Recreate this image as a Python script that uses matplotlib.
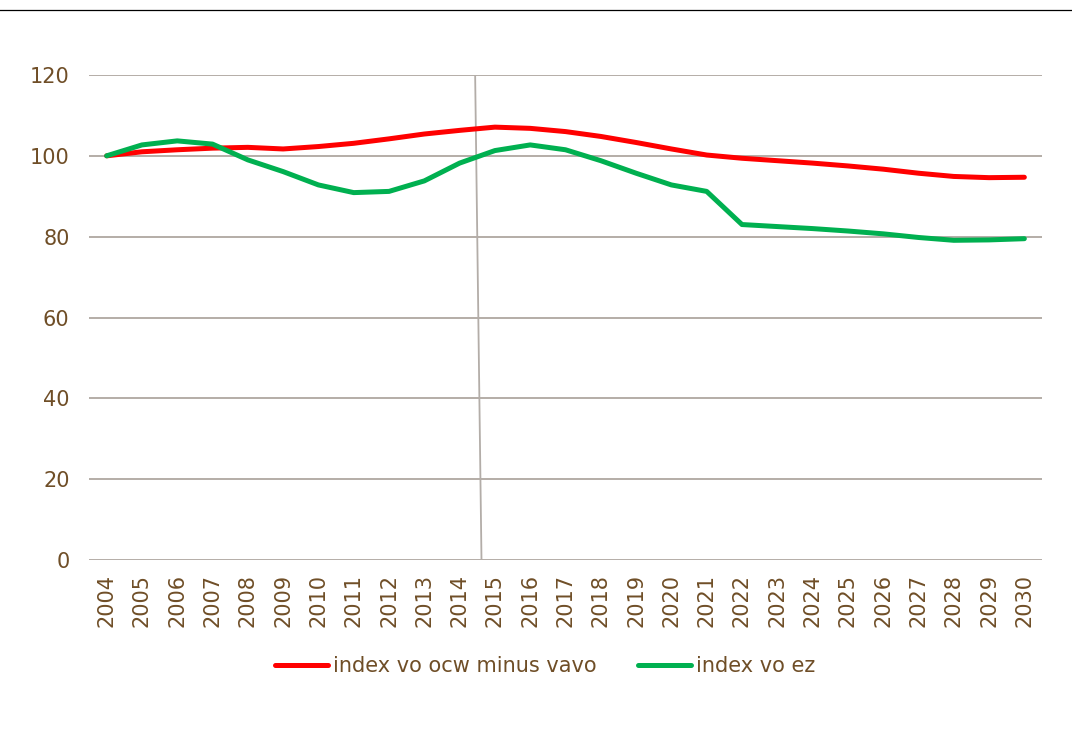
import matplotlib.pyplot as plt
from matplotlib.lines import Line2D

years = [str(y) for y in range(2004, 2031)]
index_ocw = [100.0, 101.0, 101.5, 101.9, 102.1, 101.7, 102.3, 103.1, 104.2, 105.4,
             106.3, 107.1, 106.8, 106.0, 104.8, 103.3, 101.7, 100.2, 99.4, 98.8,
             98.2, 97.5, 96.7, 95.7, 94.9, 94.6, 94.7]
index_ez = [100.0, 102.7, 103.7, 102.9, 99.0, 96.1, 92.8, 90.9, 91.2, 93.8,
            98.2, 101.3, 102.7, 101.5, 98.8, 95.7, 92.8, 91.2, 83.0, 82.5,
            82.0, 81.4, 80.7, 79.8, 79.1, 79.2, 79.5]
labels = ['index vo ocw minus vavo', 'index vo ez']

# slanted divider between 2014 and 2015 (category index units)
divider_x = [10.44, 10.62]
divider_y = [120, 0]

text_color = '#6F4E27'
grid_color = '#A0978F'
fs = 15

plt.rcParams['font.family'] = ['DejaVu Sans']

fig = plt.figure(figsize=(10.72, 7.31), dpi=100)
ax = fig.add_axes([89 / 1072, 1 - 560 / 731, (1042 - 89) / 1072, (560 - 75) / 731])

x = list(range(len(years)))
ax.plot(divider_x, divider_y, color='#B3ADA8', linewidth=1.3, zorder=1)
ax.plot(x, index_ocw, color='#FF0000', linewidth=3.6, solid_capstyle='round',
        label=labels[0], zorder=3)
ax.plot(x, index_ez, color='#00B050', linewidth=3.6, solid_capstyle='round',
        label=labels[1], zorder=3)

ax.set_xlim(-0.5, len(years) - 0.5)
ax.set_ylim(0, 120)
ax.set_yticks(range(0, 121, 20))
ax.set_xticks(x)
ax.set_xticklabels(years, rotation=90)
ax.tick_params(axis='both', length=0, labelsize=fs, labelcolor=text_color)
ax.tick_params(axis='y', pad=14)
ax.tick_params(axis='x', pad=10)
ax.yaxis.grid(True, color=grid_color, linewidth=1.1)
ax.set_axisbelow(True)
for s in ax.spines.values():
    s.set_visible(False)

fig.add_artist(Line2D([0, 1], [1 - 10 / 731, 1 - 10 / 731], transform=fig.transFigure,
                      color='#000000', linewidth=0.9))

leg = fig.legend(loc='center', bbox_to_anchor=(545 / 1072, 1 - 666 / 731), ncol=2,
                 frameon=False, fontsize=fs, handlelength=2.55, handletextpad=0.24,
                 columnspacing=2.0)
for t in leg.get_texts():
    t.set_color(text_color)

fig.savefig('out.png', dpi=100)
